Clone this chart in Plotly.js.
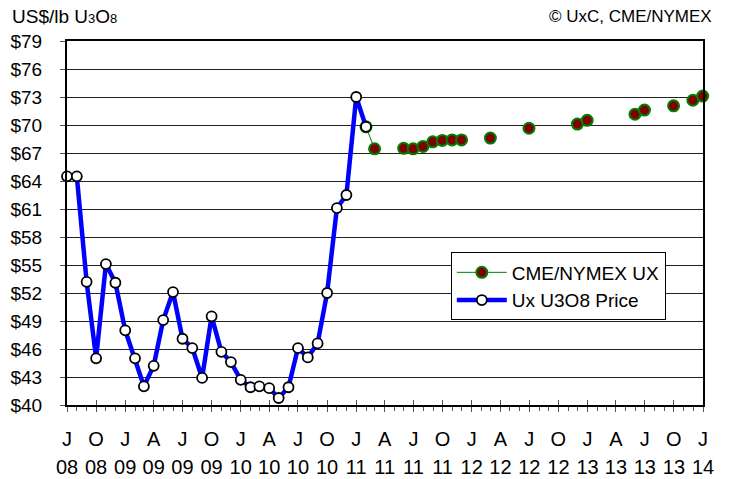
<!DOCTYPE html>
<html>
<head>
<meta charset="utf-8">
<script src="https://cdn.plot.ly/plotly-3.0.1.min.js"></script>
<style>html,body{margin:0;padding:0;background:#fff;}#chart{width:731px;height:479px;}</style>
</head>
<body>
<div id="chart"></div>
<script>
// Ux U3O8 spot price (monthly)
var spotDates = ['2008-07-01','2008-08-01','2008-09-01','2008-10-01','2008-11-01','2008-12-01',
  '2009-01-01','2009-02-01','2009-03-01','2009-04-01','2009-05-01','2009-06-01',
  '2009-07-01','2009-08-01','2009-09-01','2009-10-01','2009-11-01','2009-12-01',
  '2010-01-01','2010-02-01','2010-03-01','2010-04-01','2010-05-01','2010-06-01',
  '2010-07-01','2010-08-01','2010-09-01','2010-10-01','2010-11-01','2010-12-01',
  '2011-01-01','2011-02-01'];
var spotValues = [64.5, 64.5, 53.2, 45.0, 55.1, 53.1,
  48.0, 45.0, 42.0, 44.2, 49.1, 52.1,
  47.1, 46.1, 42.9, 49.5, 45.7, 44.6,
  42.7, 41.9, 42.0, 41.8, 40.75, 41.9,
  46.1, 45.1, 46.6, 52.0, 61.1, 62.5,
  73.0, 69.8];

// CME/NYMEX UX futures
var futDates = ['2011-02-28','2011-05-31','2011-06-30','2011-07-31','2011-08-31','2011-09-30',
  '2011-10-31','2011-11-30','2012-02-29','2012-06-30','2012-11-30','2012-12-31',
  '2013-05-31','2013-06-30','2013-09-30','2013-11-30','2013-12-31'];
var futValues = [67.45, 67.5, 67.45, 67.7, 68.2, 68.35,
  68.4, 68.4, 68.6, 69.65, 70.1, 70.5,
  71.15, 71.6, 72.05, 72.65, 73.1];

// axis tick labels
var tickDates = ['2008-07-01','2008-10-01','2009-01-01','2009-04-01','2009-07-01','2009-10-01',
  '2010-01-01','2010-04-01','2010-07-01','2010-10-01','2011-01-01','2011-04-01',
  '2011-07-01','2011-10-01','2012-01-01','2012-04-01','2012-07-01','2012-10-01',
  '2013-01-01','2013-04-01','2013-07-01','2013-10-01','2014-01-01'];
var tickLetters = ['J','O','J','A','J','O','J','A','J','O','J','A','J','O','J','A','J','O','J','A','J','O','J'];
var tickYears = ['08','08','09','09','09','09','10','10','10','10','11','11','11','11','12','12','12','12','13','13','13','13','14'];

// futures trace: first segment links from last spot point, the rest are unconnected dots
var fx = [spotDates[spotDates.length-1], futDates[0]];
var fy = [spotValues[spotValues.length-1], futValues[0]];
for (var i = 1; i < futDates.length; i++) {
  fx.push(futDates[i]); fy.push(null);
  fx.push(futDates[i]); fy.push(futValues[i]);
}

var FONT = 'Arial, "Liberation Sans", sans-serif';

var data = [
  {
    name: 'CME/NYMEX UX', x: fx, y: fy, type: 'scatter', mode: 'lines+markers',
    xaxis: 'x', yaxis: 'y', connectgaps: false, cliponaxis: false,
    line: {color: '#008000', width: 1},
    marker: {size: 11, color: '#800000', line: {color: '#008000', width: 2}}
  },
  {
    name: 'Ux U3O8 Price', x: spotDates, y: spotValues, type: 'scatter', mode: 'lines+markers',
    xaxis: 'x2', yaxis: 'y', cliponaxis: false,
    line: {color: '#0000ff', width: 4.5},
    marker: {size: 10, color: '#ffffff', line: {color: '#000000', width: 1.8}}
  }
];

var xr = ['2008-07-01', '2014-01-01'];
var layout = {
  width: 731, height: 479,
  margin: {l: 67, r: 28, t: 41, b: 74, pad: 0},
  paper_bgcolor: '#ffffff', plot_bgcolor: '#ffffff',
  font: {family: FONT, size: 19, color: '#000'},
  showlegend: true,
  legend: {
    x: 0.6035, y: 0.419, xanchor: 'left', yanchor: 'top',
    bgcolor: '#ffffff', bordercolor: '#000000', borderwidth: 1,
    font: {family: FONT, size: 19, color: '#000'},
    itemwidth: 50, traceorder: 'normal'
  },
  xaxis: {
    type: 'date', range: xr, showgrid: false, zeroline: false,
    showline: true, linecolor: '#000', linewidth: 2, mirror: true,
    tickmode: 'array', tickvals: tickDates, ticktext: tickLetters,
    ticks: 'outside', ticklen: 5, tickwidth: 1, tickcolor: '#555',
    ticklabelstandoff: 10,
    tickfont: {family: FONT, size: 20, color: '#000'},
    minor: {dtick: 'M1', tick0: '2008-07-01', ticks: 'outside', ticklen: 4, tickcolor: '#555', tickwidth: 1, showgrid: false}
  },
  xaxis2: {
    type: 'date', overlaying: 'x', matches: 'x', anchor: 'y', side: 'bottom',
    range: xr, showgrid: false, zeroline: false, showline: false,
    tickmode: 'array', tickvals: tickDates, ticktext: tickYears,
    ticks: 'inside', ticklen: 5, tickwidth: 1, tickcolor: '#555',
    ticklabelstandoff: 48,
    tickfont: {family: FONT, size: 20, color: '#000'}
  },
  yaxis: {
    range: [40, 79], tickmode: 'linear', tick0: 40, dtick: 3, tickprefix: '$',
    showgrid: true, gridcolor: '#222', gridwidth: 1, zeroline: false,
    showline: true, linecolor: '#000', linewidth: 2, mirror: true,
    ticks: 'outside', ticklen: 5, tickcolor: '#555', tickwidth: 1,
    ticklabelstandoff: 14,
    tickfont: {family: FONT, size: 19, color: '#000'}
  },
  annotations: [
    {xref: 'paper', yref: 'paper', x: -0.089, y: 1.068, xanchor: 'left', yanchor: 'middle', showarrow: false,
     text: 'US$/lb U<span style="font-size:13px">3</span>O<span style="font-size:13px">8</span>',
     font: {family: FONT, size: 19, color: '#000'}},
    {xref: 'paper', yref: 'paper', x: 1.0173, y: 1.068, xanchor: 'right', yanchor: 'middle', showarrow: false,
     text: '© UxC, CME/NYMEX', font: {family: FONT, size: 17, color: '#000'}}
  ]
};

Plotly.newPlot('chart', data, layout, {displayModeBar: false, staticPlot: true});
</script>
</body>
</html>
